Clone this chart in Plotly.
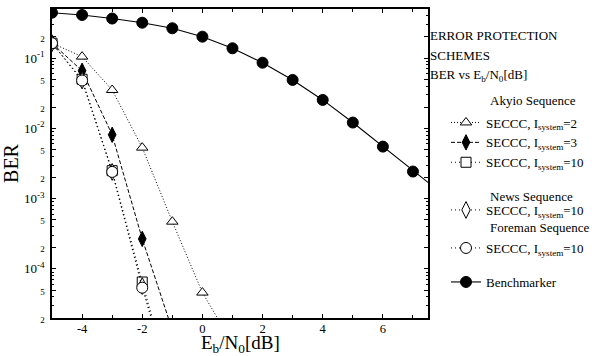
import plotly.graph_objects as go

# ---------------- data ----------------
snr_akyio2 = [-5, -4, -3, -2, -1, 0, 1]
ber_akyio2 = [0.163, 0.105, 0.0352, 0.00532, 4.7e-4, 4.6e-5, 8.7e-6]

snr_akyio3 = [-5, -4, -3, -2, -1]
ber_akyio3 = [0.163, 0.066, 0.0081, 2.67e-4, 1.35e-5]

snr_akyio10 = [-5, -4, -3, -2, -1]
ber_akyio10 = [0.163, 0.050, 0.0025, 6.5e-5, 2.0e-6]

snr_news10 = [-5, -4, -3, -2, -1]
ber_news10 = [0.163, 0.048, 0.0024, 5.7e-5, 1.9e-6]

snr_foreman10 = [-5, -4, -3, -2, -1]
ber_foreman10 = [0.163, 0.048, 0.0024, 5.4e-5, 1.8e-6]

snr_bench = [-5, -4, -3, -2, -1, 0, 1, 2, 3, 4, 5, 6, 7, 8]
ber_bench = [0.443, 0.411, 0.366, 0.319, 0.266, 0.202, 0.138, 0.086, 0.0489,
             0.0254, 0.0121, 0.0055, 0.00243, 0.00115]

x_tickvals = [-4, -2, 0, 2, 4, 6]
y_tickvals = [2e-5, 5e-5, 1e-4, 2e-4, 5e-4, 1e-3, 2e-3, 5e-3, 1e-2, 2e-2, 5e-2, 0.1, 0.2]
y_ticktext_major = {1e-4: "10<sup>-4</sup>", 1e-3: "10<sup>-3</sup>",
                    1e-2: "10<sup>-2</sup>", 0.1: "10<sup>-1</sup>"}

FONT = "Liberation Serif, Times New Roman, serif"
small = lambda s: "<span style='font-size:9px'>%s</span>" % s
y_ticktext = []
for v in y_tickvals:
    if v in y_ticktext_major:
        y_ticktext.append(y_ticktext_major[v])
    else:
        lead = ("%.0e" % v)[0]
        y_ticktext.append(small(lead))

fig = go.Figure()

def add(x, y, name, symbol, size, fill, dash, legend, width=1):
    fig.add_trace(go.Scatter(
        x=x, y=y, name=name, mode="lines+markers",
        line=dict(color="black", width=width, dash=dash),
        marker=dict(symbol=symbol, size=size, color=fill,
                    line=dict(color="black", width=1)),
        legend=legend, showlegend=True))

add(snr_akyio2, ber_akyio2, "SECCC, I<sub>system</sub>=2", "triangle-up", 10, "white", "1px,2px", "legend")
add(snr_akyio3, ber_akyio3, "SECCC, I<sub>system</sub>=3", "diamond-tall", 11, "black", "4px,2px", "legend")
add(snr_akyio10, ber_akyio10, "SECCC, I<sub>system</sub>=10", "square", 10, "white", "1px,3px", "legend")
add(snr_news10, ber_news10, "SECCC, I<sub>system</sub>=10", "diamond-tall", 12, "white", "1px,3px", "legend2")
add(snr_foreman10, ber_foreman10, "SECCC, I<sub>system</sub>=10", "circle", 11, "white", "1px,3px", "legend3")
add(snr_bench, ber_bench, "Benchmarker", "circle", 11, "black", "solid", "legend4", 1.1)

L, R, T, B = 52, 174, 9, 38
W, H = 602, 356
pw, ph = W - L - R, H - T - B

def px2x(px):
    return (px - L) / pw

def py2y(py):
    return (H - B - py) / ph

leg_common = dict(bgcolor="rgba(0,0,0,0)", font=dict(family=FONT, size=13, color="black"),
                  xanchor="left", yanchor="middle", itemwidth=30)
lx = px2x(446)
fig.update_layout(
    legend=dict(x=lx, y=py2y(142.5), **leg_common),
    legend2=dict(x=lx, y=py2y(210), **leg_common),
    legend3=dict(x=lx, y=py2y(248), **leg_common),
    legend4=dict(x=lx, y=py2y(282), **leg_common),
)

ann_font = dict(family=FONT, size=13, color="black")
labels = [
    ("ERROR PROTECTION", 428, 35),
    ("SCHEMES", 428, 55),
    ("BER vs E<sub>b</sub>/N<sub>0</sub>[dB]", 428, 75),
    ("Akyio Sequence", 488, 100),
    ("News Sequence", 488, 196),
    ("Foreman Sequence", 488, 227),
]
for txt, xp, yp in labels:
    fig.add_annotation(text=txt, x=px2x(xp), y=py2y(yp), xref="paper", yref="paper",
                       xanchor="left", yanchor="middle", showarrow=False, font=ann_font)

# x-axis title as annotation
fig.add_annotation(text="E<sub>b</sub>/N<sub>0</sub>[dB]", x=0.5, y=py2y(344),
                   xref="paper", yref="paper", xanchor="center", yanchor="middle",
                   showarrow=False, font=dict(family=FONT, size=19, color="black"))

axis_common = dict(showline=True, linecolor="black", linewidth=1.5, mirror="allticks",
                   ticks="inside", ticklen=4, tickcolor="black", tickwidth=1,
                   showgrid=False, zeroline=False)

fig.update_xaxes(range=[-5, 7.5], tickmode="array", tickvals=x_tickvals,
                 ticktext=[str(v) for v in x_tickvals],
                 tickfont=dict(family=FONT, size=12.5, color="black"),
                 ticklabelstandoff=-2,
                 minor=dict(dtick=1, tick0=0, ticks="inside", ticklen=3, tickcolor="black", showgrid=False),
                 **axis_common)
fig.update_yaxes(type="log", range=[-4.69897, -0.30103], tickmode="array",
                 tickvals=y_tickvals, ticktext=y_ticktext,
                 tickfont=dict(family=FONT, size=13, color="black"),
                 minor=dict(dtick="D1", ticks="inside", ticklen=2.5, tickcolor="black", showgrid=False),
                 title=dict(text="BER", font=dict(family=FONT, size=20, color="black"), standoff=6),
                 ticklabelstandoff=3,
                 **axis_common)

fig.update_layout(width=W, height=H, margin=dict(l=L, r=R, t=T, b=B, autoexpand=False),
                  paper_bgcolor="white", plot_bgcolor="white",
                  font=dict(family=FONT, color="black"))

fig.write_html("out.html")
